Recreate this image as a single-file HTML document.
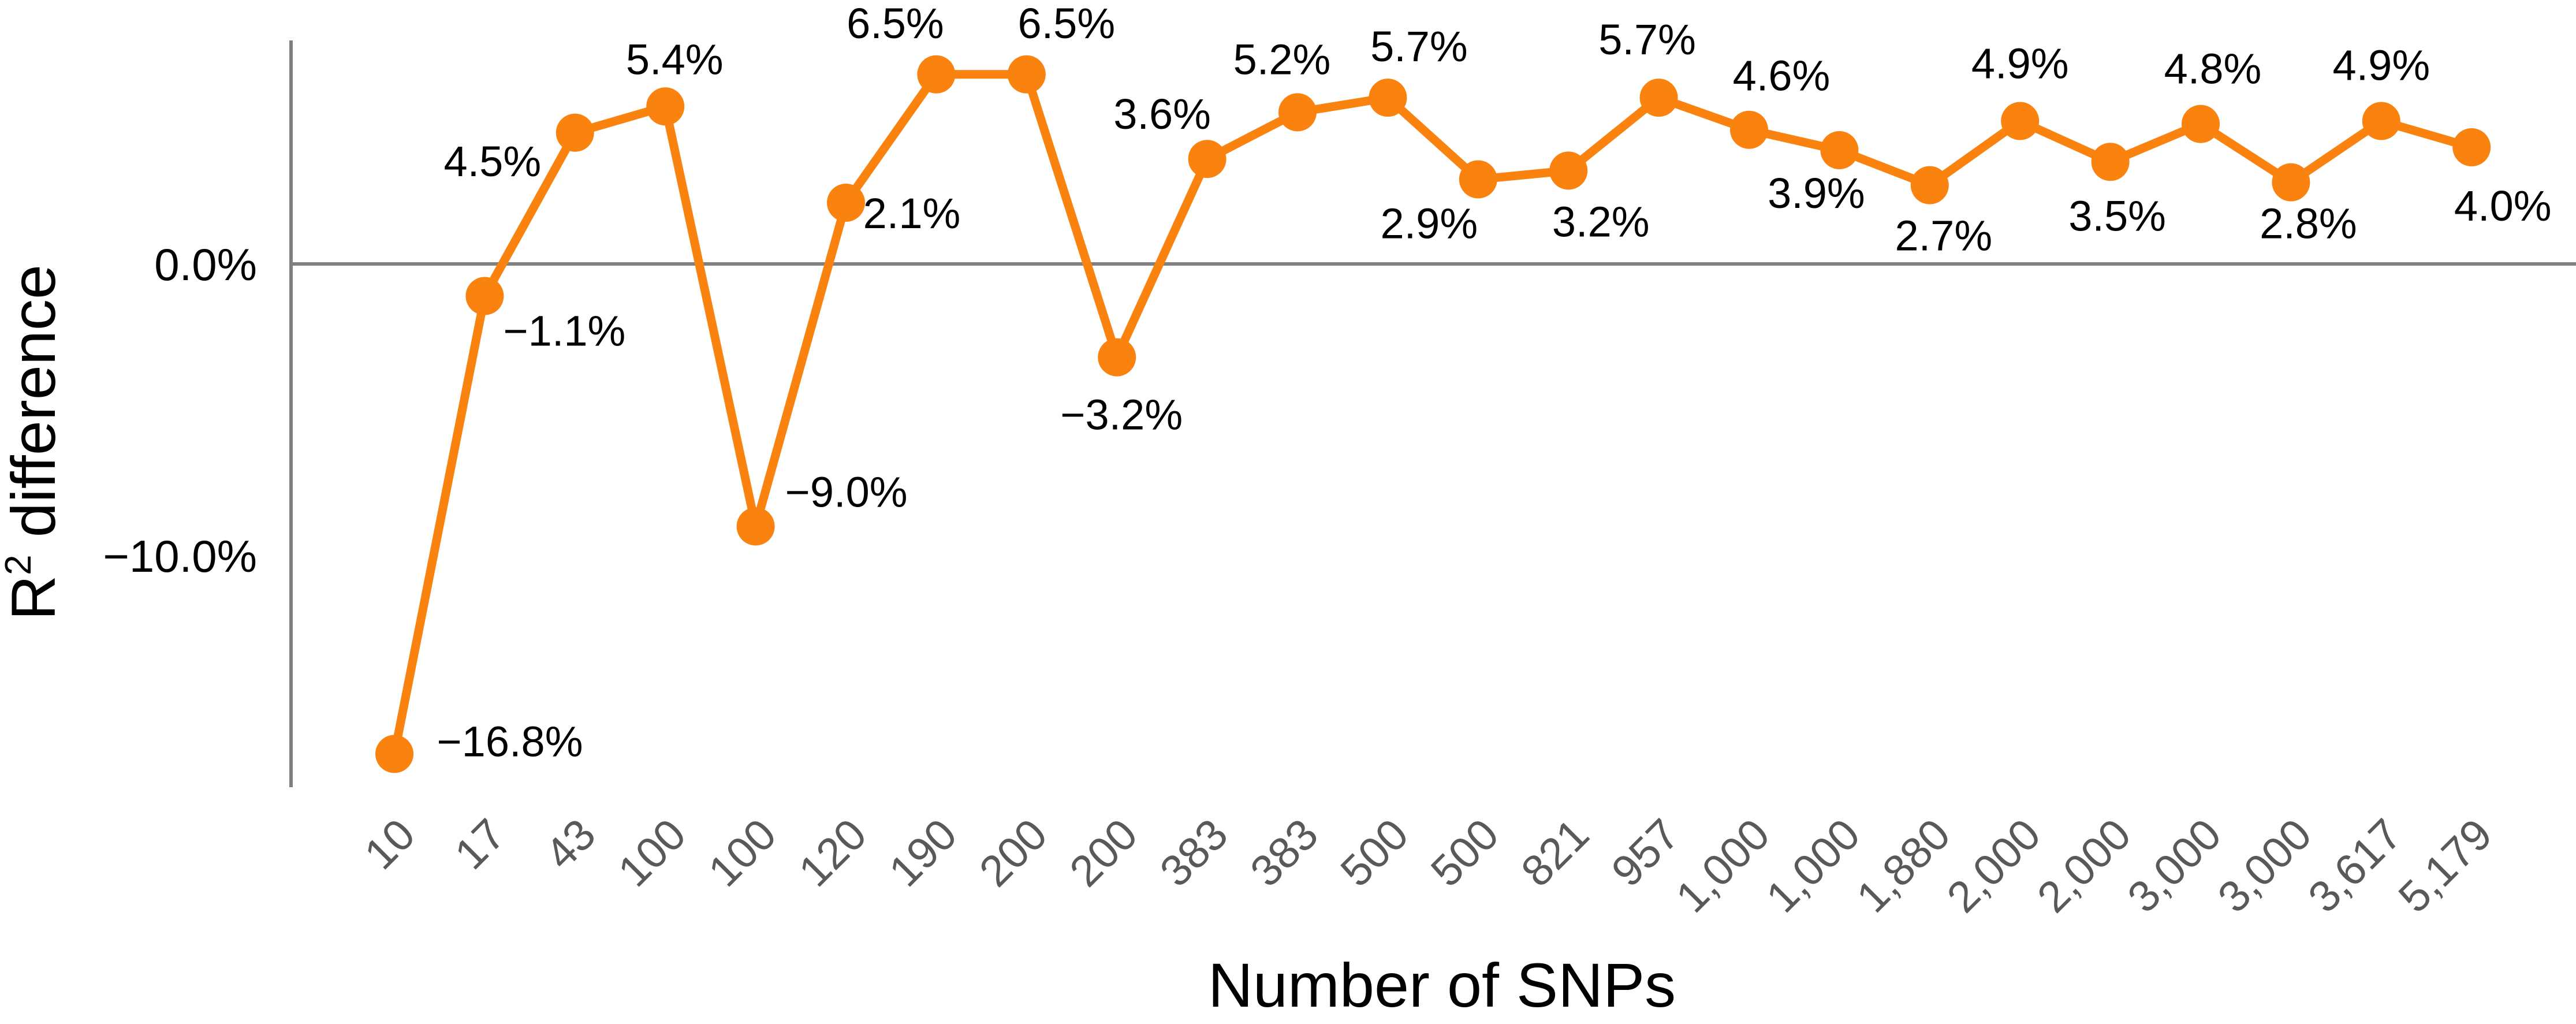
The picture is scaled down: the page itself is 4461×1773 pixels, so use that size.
<!DOCTYPE html>
<html><head><meta charset="utf-8"><style>
html,body{margin:0;padding:0;background:#fff;}
svg{display:block;}
text{font-family:"Liberation Sans",sans-serif;}
</style></head><body>
<svg id="chart" width="4461" height="1773" viewBox="0 0 4461 1773" xmlns="http://www.w3.org/2000/svg">
<g id="axes"></g>
<g id="series"></g>
<g id="labels"></g>
<g id="xticks"></g>
<text x="2497" y="1743" font-size="108" text-anchor="middle" fill="#000">Number of SNPs</text>
<text transform="translate(95,766) rotate(-90)" font-size="108" text-anchor="middle" fill="#000">R<tspan font-size="64" dy="-42">2</tspan><tspan dy="42"> difference</tspan></text>
</svg>
<script>
const categories = ["10","17","43","100","100","120","190","200","200","383","383","500","500","821","957","1,000","1,000","1,880","2,000","2,000","3,000","3,000","3,617","5,179"];
const values = [-16.8,-1.1,4.5,5.4,-9.0,2.1,6.5,6.5,-3.2,3.6,5.2,5.7,2.9,3.2,5.7,4.6,3.9,2.7,4.9,3.5,4.8,2.8,4.9,4.0];
const valueLabels = ["−16.8%","−1.1%","4.5%","5.4%","−9.0%","2.1%","6.5%","6.5%","−3.2%","3.6%","5.2%","5.7%","2.9%","3.2%","5.7%","4.6%","3.9%","2.7%","4.9%","3.5%","4.8%","2.8%","4.9%","4.0%"];
const yTicks = [0,-10];
const yTickLabels = ["0.0%","−10.0%"];
// label placement offsets (layout, not data)
const labelDx = [200,138,-143,16,157,114,-71,69,8,-78,-27,54,-85,56,-20,56,-40,24,0,12,21,30,0,54];
const labelDy = [-22,60,49,-82,-60,18,-89,-89,99,-78,-92,-89,76,88,-101,-94,74,87,-100,93,-96,71,-97,101];

const NS="http://www.w3.org/2000/svg";
const x0=683, step=156.4, zeroY=457, perUnit=50.5;
function xScale(i){return x0+i*step;}
function yScale(v){return zeroY - v*perUnit;}
function mk(tag,attrs,parent){const e=document.createElementNS(NS,tag);for(const k in attrs)e.setAttribute(k,attrs[k]);parent.appendChild(e);return e;}

const axes=document.getElementById('axes');
let yl=mk('line',{x1:504,y1:70,x2:504,y2:1363,stroke:'#808080','stroke-width':6},axes);


let zl=mk('line',{x1:504,y1:yScale(0),x2:4461,y2:yScale(0),stroke:'#808080','stroke-width':6},axes);


yTicks.forEach((t,i)=>{
  const tx=mk('text',{x:445,y:yScale(t)+28,'font-size':78,'text-anchor':'end',fill:'#000'},axes);
  tx.textContent=yTickLabels[i];
  
  
});

const series=document.getElementById('series');
const pts=values.map((v,i)=>xScale(i)+','+yScale(v)).join(' ');
const pl=mk('polyline',{points:pts,fill:'none',stroke:'#fa820f','stroke-width':15,'stroke-linejoin':'round'},series);


values.forEach((v,i)=>{
  const c=mk('circle',{cx:xScale(i),cy:yScale(v),r:33,fill:'#fa820f'},series);
  
  
});

const labels=document.getElementById('labels');
values.forEach((v,i)=>{
  const t=mk('text',{x:xScale(i)+labelDx[i],y:yScale(v)+labelDy[i]+26,'font-size':74,'text-anchor':'middle',fill:'#000'},labels);
  t.textContent=valueLabels[i];
  
  
});

const xt=document.getElementById('xticks');
categories.forEach((c,i)=>{
  const x=xScale(i)+40, y=1450;
  const t=mk('text',{x:x,y:y,'font-size':76,'text-anchor':'end',fill:'#58595b',transform:`rotate(-45 ${x} ${y})`},xt);
  t.textContent=c;
  
  
});
</script>
</body></html>
